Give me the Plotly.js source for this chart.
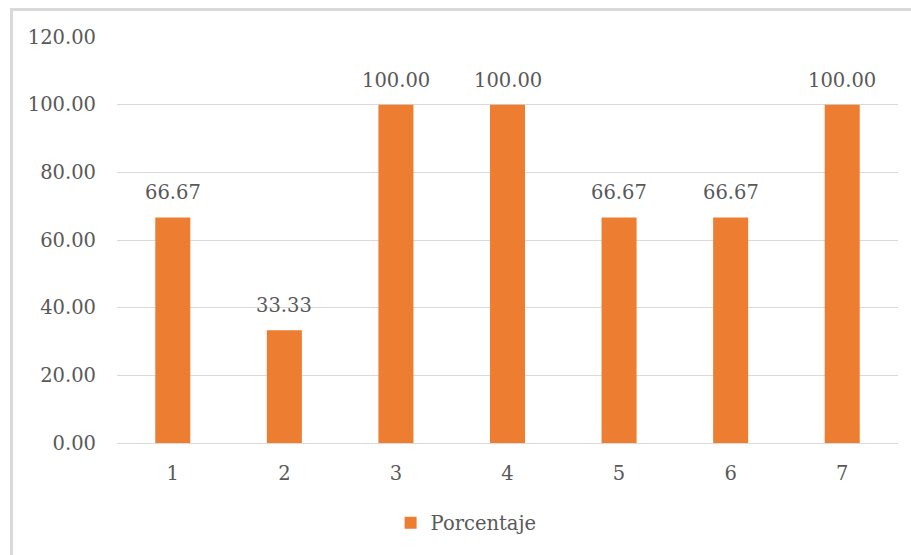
<!DOCTYPE html>
<html>
<head>
<meta charset="utf-8">
<script src="https://cdn.plot.ly/plotly-3.0.1.min.js"></script>
<style>
  html, body { margin: 0; padding: 0; background: #ffffff; overflow: hidden; }
  #wrap { position: relative; width: 911px; height: 555px; }
  #frame { position: absolute; left: 10px; top: 8px; width: 1000px; height: 700px;
           border-left: 3px solid #d9d9d9; border-top: 3px solid #d9d9d9; box-sizing: border-box; z-index: 2; pointer-events: none; }
  #chart { position: absolute; left: 0; top: 0; width: 911px; height: 555px; }
</style>
</head>
<body>
<div id="wrap">
  <div id="chart"></div>
  <div id="frame"></div>
</div>
<script>
// Categories and percentage per item
const categories = ['1', '2', '3', '4', '5', '6', '7'];
const porcentaje = [66.67, 33.33, 100.00, 100.00, 66.67, 66.67, 100.00];
const yTickValues = [0, 20, 40, 60, 80, 100, 120];
const yTickLabels = ['0.00', '20.00', '40.00', '60.00', '80.00', '100.00', '120.00'];

const FONT = 'DejaVu Serif, Liberation Serif, serif';
const GREY = '#595959';
const FS = 19.5;

const trace = {
  type: 'bar',
  x: categories,
  y: porcentaje,
  name: 'Porcentaje',
  marker: { color: '#ED7D31' },
  hoverinfo: 'x+y'
};

// value labels above each bar (x given as category index)
const labels = categories.map((c, i) => ({
  x: i,
  y: porcentaje[i],
  text: porcentaje[i].toFixed(2),
  showarrow: false,
  yanchor: 'bottom',
  yshift: 11,
  font: { family: FONT, size: FS, color: GREY }
}));

const layout = {
  width: 911,
  height: 555,
  margin: { l: 117, r: 13, t: 37, b: 112 },
  paper_bgcolor: '#ffffff',
  plot_bgcolor: '#ffffff',
  font: { family: FONT, size: FS, color: GREY },
  bargap: 0.686,
  showlegend: true,
  legend: {
    orientation: 'h',
    x: 0.447, xanchor: 'center',
    y: -0.149, yanchor: 'top',
    font: { family: FONT, size: FS, color: GREY }
  },
  xaxis: {
    type: 'category',
    range: [-0.5, categories.length - 0.5],
    showgrid: false,
    showline: true,
    linecolor: '#d9d9d9',
    linewidth: 1,
    ticks: '',
    ticklabelstandoff: 13,
    tickfont: { family: FONT, size: FS, color: GREY }
  },
  yaxis: {
    range: [0, 120],
    tickvals: yTickValues,
    ticktext: yTickLabels,
    showgrid: true,
    gridcolor: '#d9d9d9',
    gridwidth: 1,
    zeroline: false,
    showline: false,
    ticks: '',
    ticklabelstandoff: 20,
    tickfont: { family: FONT, size: FS, color: GREY }
  },
  annotations: labels
};

Plotly.newPlot('chart', [trace], layout, { displayModeBar: false, staticPlot: true });
</script>
</body>
</html>
